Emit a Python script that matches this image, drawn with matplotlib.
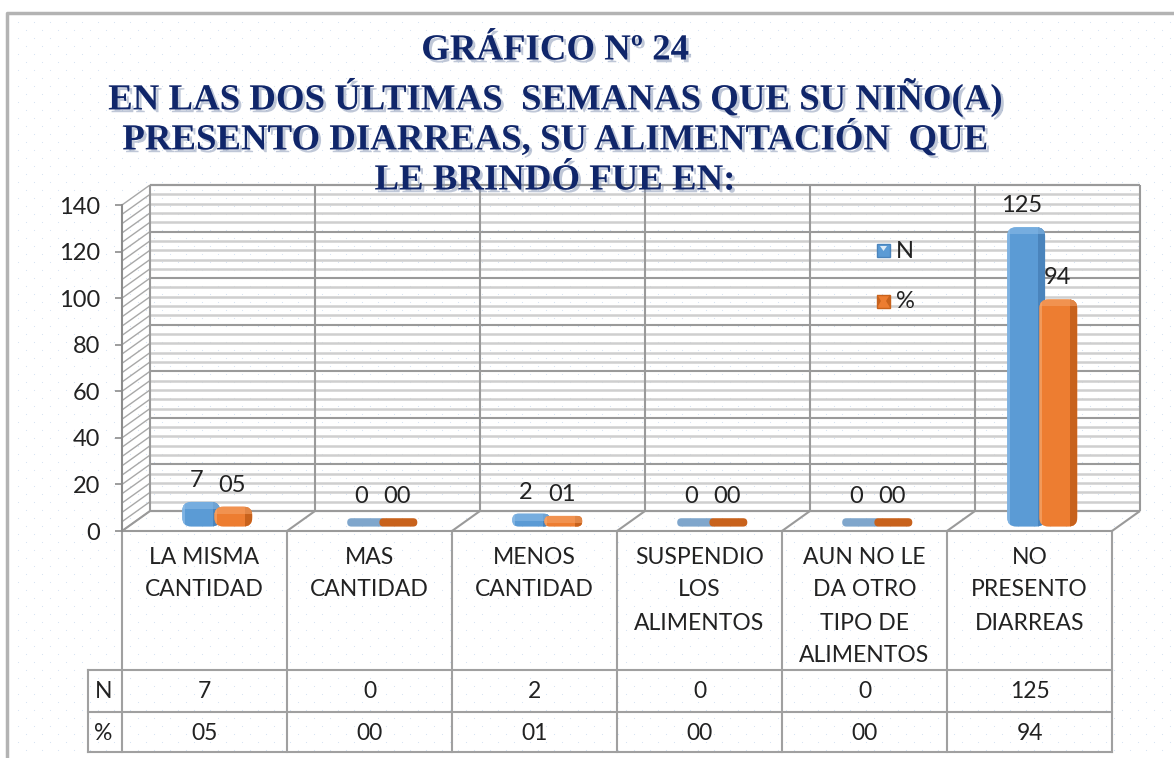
import numpy as np
import matplotlib
matplotlib.use("Agg")
import matplotlib.pyplot as plt
from matplotlib.patches import FancyBboxPatch, Rectangle, Polygon
import matplotlib.patheffects as pe

# ---- datos del gráfico ----
categorias = ["LA MISMA\nCANTIDAD", "MAS\nCANTIDAD", "MENOS\nCANTIDAD",
              "SUSPENDIO\nLOS\nALIMENTOS", "AUN NO LE\nDA OTRO\nTIPO DE\nALIMENTOS",
              "NO\nPRESENTO\nDIARREAS"]
valores_n = [7, 0, 2, 0, 0, 125]
valores_pct = [5, 0, 1, 0, 0, 94]
series = ["N", "%"]
titulo = ["GRÁFICO Nº 24",
          "EN LAS DOS ÚLTIMAS  SEMANAS QUE SU NIÑO(A)",
          "PRESENTO DIARREAS, SU ALIMENTACIÓN  QUE",
          "LE BRINDÓ FUE EN:"]
y_ticks = list(range(0, 141, 20))

W, H = 1174, 758
FONT = "Lato"
AZUL, AZUL_OSC, AZUL_CLARO = "#5B9BD5", "#4A84BC", "#8DBDE8"
NAR, NAR_OSC, NAR_CLARO = "#ED7D31", "#C8621C", "#F6A56A"
GRIS = "#9A9A9A"
TXT = "#222222"

fig = plt.figure(figsize=(W / 100, H / 100), dpi=100)

# fondo en pixeles (marco, puntos y tabla)
bg = fig.add_axes([0, 0, 1, 1])
bg.set_xlim(0, W)
bg.set_ylim(H, 0)
bg.axis("off")

# textura de puntos del area del grafico
for k, yy in enumerate(np.arange(22, H, 8)):
    xs = np.arange(18 + 8 * (k % 2), W, 16)
    bg.scatter(xs, np.full(len(xs), yy), s=0.6, color="#D3E0F2", lw=0, zorder=0)
bg.plot([7, 7, W], [H, 13, 13], color="#B3B3B3", lw=2.5, zorder=1)

# ---- area 3D: plano frontal = ejes ----
X0, X1, YB, YT = 122, 1112, 531, 205
ax = fig.add_axes([X0 / W, 1 - YB / H, (X1 - X0) / W, (YB - YT) / H])
ax.set_xlim(0, len(categorias))
ax.set_ylim(0, 140)
ax.patch.set_alpha(0)
px_x = (X1 - X0) / len(categorias)     # pixeles por categoria
px_y = (YB - YT) / 140.0               # pixeles por unidad
DX, DY = 28 / px_x, 20 / px_y          # profundidad del fondo
MDX, MDY = DX / 2, DY / 2              # barras a media profundidad
ASPECT = px_x / px_y
nc = len(categorias)

kw = dict(clip_on=False, solid_capstyle="butt")
for v in range(0, 141, 4):
    mayor = v % 20 == 0
    ax.plot([DX, nc + DX], [v + DY, v + DY], color=GRIS if mayor else "#CFCFCF",
            lw=1.5 if mayor else 1.8, zorder=1, **kw)
    ax.plot([0, DX], [v, v + DY], color="#A8A8A8", lw=1, zorder=1, **kw)
for i in range(nc + 1):
    ax.plot([i + DX, i + DX], [DY, 140 + DY], color=GRIS, lw=1.5, zorder=1.2, **kw)
    ax.plot([i, i + DX], [0, DY], color=GRIS, lw=1.5, zorder=1.2, **kw)
ax.plot([DX, nc + DX], [DY, DY], color=GRIS, lw=1.5, zorder=1.2, **kw)
ax.plot([0, nc], [0, 0], color=GRIS, lw=1.5, zorder=1.2, **kw)
ax.plot([DX, nc + DX], [140 + DY, 140 + DY], color=GRIS, lw=1.5, zorder=1.2, **kw)

for s in ["top", "right", "bottom"]:
    ax.spines[s].set_visible(False)
ax.spines["left"].set_color("#8C8C8C")
ax.spines["left"].set_linewidth(1.5)
ax.set_xticks([])
ax.set_yticks(y_ticks)
ax.tick_params(axis="y", length=5, width=1.2, color="#8C8C8C", pad=11,
               labelsize=17, labelcolor=TXT)
for t in ax.get_yticklabels():
    t.set_fontfamily(FONT)


def barra(xc, v, base, oscuro, claro, z):
    w = 0.23
    x0 = xc - w / 2
    y0 = MDY - 2.4
    h = v + 3.6
    r = min(0.055, h * px_y / px_x / 2)
    cuerpo = FancyBboxPatch((x0, y0), w, h, boxstyle=f"round,pad=0,rounding_size={r}",
                            mutation_aspect=ASPECT, fc=base, ec="none", zorder=z, clip_on=False)
    ax.add_patch(cuerpo)
    if v == 0:
        cuerpo.set_facecolor(oscuro if base == NAR else "#7FA6CC")
        return
    capas = [Rectangle((x0 + w * 0.8, y0), w * 0.2, h, fc=oscuro, ec="none", zorder=z + 0.1),
             Rectangle((x0, y0), w * 0.08, h, fc=claro, ec="none", alpha=0.7, zorder=z + 0.1),
             Rectangle((x0, y0 + h - 3.0), w, 3.0, fc=claro, ec="none", alpha=0.55, zorder=z + 0.2)]
    for p in capas:
        ax.add_patch(p)
        p.set_clip_path(cuerpo)


for i in range(nc):
    xn = i + 0.395 + MDX
    xp = i + 0.59 + MDX
    barra(xn, valores_n[i], AZUL, AZUL_OSC, AZUL_CLARO, 3 + i)
    barra(xp, valores_pct[i], NAR, NAR_OSC, NAR_CLARO, 3.5 + i)
    ax.annotate(f"{valores_n[i]}", (xn, valores_n[i] + MDY + 1), xytext=(-5, 22),
                textcoords="offset pixels", ha="center", va="center", fontsize=17,
                fontfamily=FONT, color=TXT, zorder=20, annotation_clip=False)
    ax.annotate(f"{valores_pct[i]:02d}", (xp, valores_pct[i] + MDY + 1), xytext=(-1, 22),
                textcoords="offset pixels", ha="center", va="center", fontsize=17,
                fontfamily=FONT, color=TXT, zorder=20, annotation_clip=False)

# ---- leyenda (capa superior) ----
top = fig.add_axes([0, 0, 1, 1])
top.set_xlim(0, W)
top.set_ylim(H, 0)
top.axis("off")
top.patch.set_alpha(0)
for k, (nombre, c, co) in enumerate(zip(series, [AZUL, NAR], [AZUL_OSC, NAR_OSC])):
    yl = 250 + 51 * k
    top.add_patch(Rectangle((877, yl - 6.5), 13, 13, fc=c, ec=co, lw=1, zorder=5))
    if k == 0:
        top.add_patch(Polygon([[880, yl - 4], [887, yl - 4], [883.5, yl + 1]],
                              fc="#DDEBF7", ec="none", zorder=6))
    else:
        top.add_patch(Polygon([[877, yl - 6.5], [881, yl], [877, yl + 6.5]], fc=co, ec="none", zorder=6))
        top.add_patch(Polygon([[890, yl - 6.5], [886, yl], [890, yl + 6.5]], fc=co, ec="none", zorder=6))
    top.text(896, yl + 1, nombre, fontsize=17, fontfamily=FONT, va="center", ha="left",
             color=TXT, zorder=6)

# ---- tabla de datos ----
LC = "#A0A0A0"
cols = [X0 + px_x * i for i in range(nc + 1)]
for xx in cols:
    bg.plot([xx, xx], [YB, 752], color=LC, lw=1.5, zorder=2)
for yy in [670, 712, 752]:
    bg.plot([88, X1], [yy, yy], color=LC, lw=1.5, zorder=2)
bg.plot([88, 88], [670, 752], color=LC, lw=1.5, zorder=2)
tkw = dict(fontsize=16.5, fontfamily=FONT, color=TXT, va="center", zorder=3)
for i, cat in enumerate(categorias):
    xc = X0 + px_x * (i + 0.5)
    for k, linea in enumerate(cat.split("\n")):
        bg.text(xc, 557 + 33 * k, linea, ha="center", **tkw)
    bg.text(xc, 691, f"{valores_n[i]}", ha="center", **tkw)
    bg.text(xc, 733, f"{valores_pct[i]:02d}", ha="center", **tkw)
bg.text(95, 691, series[0], ha="left", **tkw)
bg.text(94, 733, series[1], ha="left", **tkw)

# ---- titulo ----
for linea, yy in zip(titulo, [50, 97, 138, 180]):
    fig.text(555 / W, 1 - yy / H, linea, ha="center", va="center", fontsize=26.5,
             fontfamily="Liberation Serif", fontweight="bold", color="#10266A",
             zorder=30, path_effects=[pe.withSimplePatchShadow(offset=(2, -2),
                                                               shadow_rgbFace="#8090B0", alpha=0.5)])

fig.savefig("out.png", dpi=100, facecolor="white")
